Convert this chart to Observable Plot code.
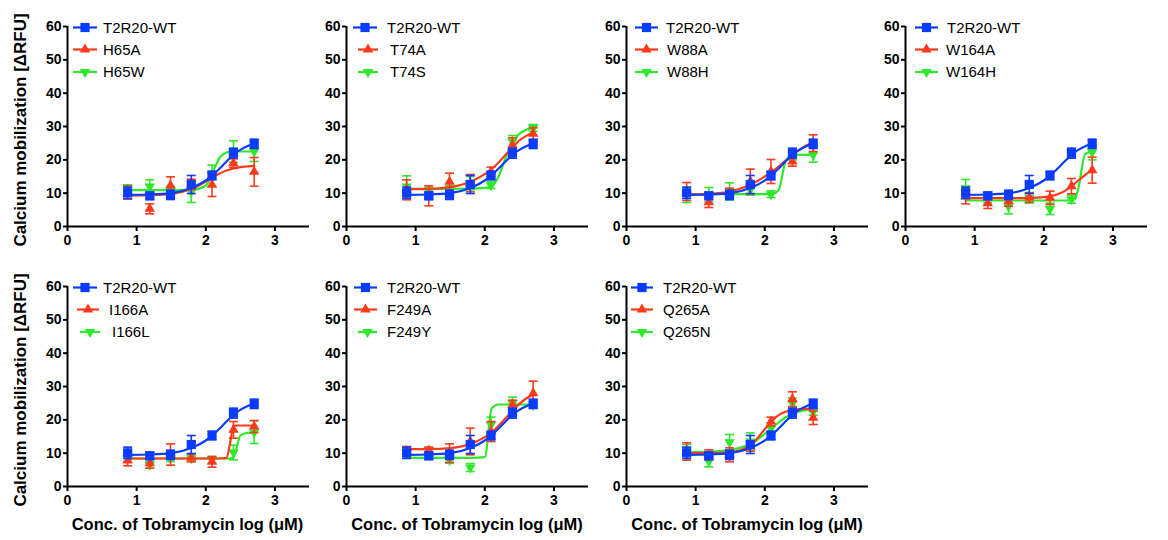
<!DOCTYPE html>
<html><head><meta charset="utf-8">
<script src="https://cdn.jsdelivr.net/npm/d3@7"></script>
<script src="https://cdn.jsdelivr.net/npm/@observablehq/plot@0.6"></script>
<style>
body{margin:0;background:#fff;}
#root{position:relative;width:1168px;height:540px;overflow:hidden;font-family:"Liberation Sans",Arial,sans-serif;color:#000;}
.panel{position:absolute;}
.legend{position:absolute;overflow:visible;}
.ylab{position:absolute;font-weight:bold;font-size:17px;white-space:nowrap;transform:translate(-50%,-50%) rotate(-90deg);}
.xlab{position:absolute;font-weight:bold;font-size:16.5px;white-space:nowrap;transform:translateX(-50%);}
</style></head><body><div id="root"></div>
<script>
// ---------------- data ----------------
const doseLog = [0.87, 1.19, 1.49, 1.79, 2.09, 2.40, 2.70];
const fitLog  = [0.87, 1.2, 1.5, 1.8, 2.0, 2.1, 2.2, 2.3, 2.35, 2.4, 2.45, 2.5, 2.6, 2.7];
const wtName = "T2R20-WT";
const alaNames = ["H65A", "T74A", "W88A", "W164A", "I166A", "F249A", "Q265A"];
const subNames = ["H65W", "T74S", "W88H", "W164H", "I166L", "F249Y", "Q265N"];

const wtMean = [10.1, 9.2, 9.5, 12.6, 15.3, 22.0, 24.8];
const wtSem  = [1.7, 1.1, 1.4, 2.7, 1.3, 1.5, 1.4];
const wtFit  = [9.5, 9.6, 10.0, 11.6, 13.8, 15.4, 17.4, 19.5, 20.5, 21.5, 22.3, 23.0, 24.1, 24.9];

const alaMean = [
  [10.2, 5.3, 12.3, 12.6, 12.5, 19.0, 16.4],
  [11.0, 9.2, 13.4, 13.0, 16.4, 24.4, 27.8],
  [10.5, 7.3, 10.0, 13.5, 16.5, 19.5, 25.0],
  [9.0, 7.0, 7.6, 8.7, 8.6, 12.1, 16.9],
  [7.8, 7.0, 9.6, 8.6, 7.4, 17.0, 18.0],
  [10.5, 10.8, 10.0, 13.5, 16.5, 24.5, 28.0],
  [10.5, 9.5, 9.5, 12.0, 19.5, 26.2, 20.6]
];
const alaSem = [
  [2.0, 1.5, 2.6, 1.6, 3.5, 1.3, 4.3],
  [3.0, 3.0, 2.6, 2.6, 1.4, 2.2, 1.8],
  [2.7, 1.6, 1.5, 3.7, 3.6, 1.4, 2.5],
  [2.2, 1.6, 1.5, 1.4, 2.0, 2.3, 3.9],
  [1.6, 1.5, 3.2, 1.2, 1.6, 2.5, 1.8],
  [1.5, 1.0, 2.8, 4.0, 3.0, 1.4, 3.6],
  [2.6, 1.5, 2.1, 1.4, 1.3, 2.2, 2.0]
];
const alaFit = [
  [9.3, 9.4, 9.8, 11.3, 13.5, 14.8, 15.9, 16.8, 17.1, 17.4, 17.6, 17.8, 18.0, 18.2],
  [11.2, 11.3, 11.8, 13.5, 15.7, 17.2, 19.2, 21.5, 22.6, 23.8, 24.8, 25.8, 27.2, 28.3],
  [9.6, 9.8, 10.5, 12.6, 15.0, 16.4, 18.0, 19.8, 20.6, 21.5, 22.3, 23.0, 24.3, 25.3],
  [8.5, 8.5, 8.5, 8.6, 8.8, 9.1, 9.7, 10.6, 11.3, 12.0, 12.9, 13.8, 15.5, 16.9],
  [8.4, 8.4, 8.4, 8.4, 8.4, 8.4, 8.4, 8.6, 12.8, 18.0, 18.3, 18.3, 18.3, 18.3],
  [11.2, 11.2, 11.5, 12.8, 14.8, 16.2, 18.2, 20.5, 21.6, 22.8, 23.8, 24.8, 26.4, 27.6],
  [10.0, 10.0, 10.3, 12.5, 17.2, 19.6, 21.4, 22.4, 22.7, 22.9, 23.1, 23.2, 23.3, 23.3]
];
const subMean = [
  [11.0, 12.0, 10.8, 10.5, 15.2, 22.5, 22.5],
  [12.0, 10.5, 11.0, 13.0, 12.4, 25.5, 29.6],
  [9.5, 9.5, 10.5, 11.0, 9.7, 21.5, 21.5],
  [11.5, 8.3, 6.1, 8.6, 5.3, 8.2, 22.3],
  [8.5, 6.5, 8.5, 8.5, 8.0, 10.2, 16.3],
  [10.0, 10.8, 8.0, 5.7, 18.5, 25.0, 24.5],
  [11.0, 7.5, 13.3, 13.5, 17.5, 25.0, 22.4]
];
const subSem = [
  [1.5, 2.0, 1.2, 3.3, 3.2, 3.2, 3.0],
  [3.2, 1.3, 1.2, 2.0, 1.0, 1.8, 1.0],
  [2.3, 2.2, 2.6, 1.6, 1.0, 1.5, 2.2],
  [2.6, 1.2, 2.3, 1.6, 1.7, 1.2, 2.3],
  [1.0, 1.0, 1.0, 1.0, 1.0, 2.2, 3.4],
  [1.5, 1.0, 1.0, 1.2, 2.3, 1.8, 1.0],
  [1.6, 1.6, 2.3, 2.6, 1.5, 1.5, 1.0]
];
const subFit = [
  [10.9, 10.9, 10.9, 11.0, 12.3, 16.3, 20.6, 22.2, 22.4, 22.5, 22.5, 22.5, 22.5, 22.5],
  [11.3, 11.3, 11.3, 11.4, 11.6, 12.2, 15.0, 20.5, 23.0, 25.0, 26.6, 27.8, 29.0, 29.6],
  [9.7, 9.7, 9.7, 9.7, 9.7, 9.7, 11.0, 19.5, 21.0, 21.4, 21.5, 21.5, 21.5, 21.5],
  [7.8, 7.8, 7.8, 7.8, 7.8, 7.8, 7.8, 7.8, 7.8, 7.9, 8.2, 11.5, 21.8, 22.5],
  [8.4, 8.4, 8.4, 8.4, 8.4, 8.4, 8.4, 8.4, 8.4, 8.7, 12.0, 15.3, 16.1, 16.2],
  [8.6, 8.6, 8.6, 8.6, 8.8, 23.5, 24.6, 24.6, 24.6, 24.6, 24.6, 24.6, 24.6, 24.6],
  [10.3, 10.5, 11.0, 12.8, 15.8, 17.5, 19.2, 20.7, 21.3, 21.8, 22.2, 22.5, 22.9, 23.1]
];
const xTicks = [0, 1, 2, 3];
const yTicks = [0, 10, 20, 30, 40, 50, 60];
const yLabel = "Calcium mobilization [\u0394RFU]";
const xLabel = "Conc. of Tobramycin log (\u03bcM)";

// ---------------- layout / style ----------------
const BLUE = "#0a3cff", RED = "#ff3a1c", GREEN = "#2ee82a";
const axisPos = [[66.5, 26], [346, 26], [626, 26], [905, 26], [66.5, 286], [346, 286], [626, 286]];
const legendLay = [
  [[6,30,36],[6,30,36],[6,30,36]],
  [[7,31,41],[12,32,44],[12,32,44]],
  [[9,32,40],[9,32,41],[9,32,41]],
  [[10,33,42],[10,33,41],[10,33,41]],
  [[6,30,36],[10,32,42],[13,33,45]],
  [[8,31,41],[8,31,41],[12,31,41]],
  [[5,27,37],[5,27,37],[5,27,37]]
];
const ML = 45, MR = 8, MT = 12, MB = 32, PW = 242, PH = 200;
const FONT = "'Liberation Sans', Arial, sans-serif";
const capSymbol = { draw(ctx, size) { const w = Math.sqrt(size / Math.PI); ctx.moveTo(-w, 0); ctx.lineTo(w, 0); } };
const root = document.getElementById("root");

const styles = [
  {color: BLUE, symbol: "square", r: 5.2, rotate: 0},
  {color: RED, symbol: "triangle", r: 3.9, rotate: 0},
  {color: GREEN, symbol: "triangle", r: 3.9, rotate: 180}
];

for (let p = 0; p < 7; p++) {
  const series = [
    {name: wtName, mean: wtMean, sem: wtSem, fit: wtFit},
    {name: alaNames[p], mean: alaMean[p], sem: alaSem[p], fit: alaFit[p]},
    {name: subNames[p], mean: subMean[p], sem: subSem[p], fit: subFit[p]}
  ];
  const marks = [];
  for (const k of [2, 1, 0]) {
    const s = series[k], st = styles[k];
    const pts = doseLog.map((x, i) => ({x, y: s.mean[i], e: s.sem[i]}));
    const fit = fitLog.map((x, i) => ({x, y: s.fit[i]}));
    marks.push(Plot.ruleX(pts, {x: "x", y1: d => d.y - d.e, y2: d => d.y + d.e, stroke: st.color, strokeWidth: 1.6}));
    marks.push(Plot.dot(pts, {x: "x", y: d => d.y + d.e, symbol: capSymbol, r: 4.5, stroke: st.color, strokeWidth: 1.6, fill: "none"}));
    marks.push(Plot.dot(pts, {x: "x", y: d => d.y - d.e, symbol: capSymbol, r: 4.5, stroke: st.color, strokeWidth: 1.6, fill: "none"}));
    marks.push(Plot.line(fit, {x: "x", y: "y", stroke: st.color, strokeWidth: 2.2, curve: "monotone-x"}));
    marks.push(Plot.dot(pts, {x: "x", y: "y", symbol: st.symbol, r: st.r, fill: st.color, stroke: "none", rotate: st.rotate}));
  }
  marks.push(Plot.ruleX([0], {stroke: "#000", strokeWidth: 2}));
  marks.push(Plot.ruleY([0], {stroke: "#000", strokeWidth: 2}));
  marks.push(Plot.axisX({ticks: xTicks, tickSize: 5, tickPadding: 4, strokeWidth: 2, label: null, tickFormat: d => String(d)}));
  marks.push(Plot.axisY({ticks: yTicks, tickSize: 4, tickPadding: 2, strokeWidth: 2, label: null, tickFormat: d => String(d)}));

  const chart = Plot.plot({
    width: ML + PW + MR, height: MT + PH + MB,
    marginLeft: ML, marginRight: MR, marginTop: MT, marginBottom: MB,
    x: {domain: [0, 3.5], nice: false},
    y: {domain: [0, 60], nice: false},
    style: {fontFamily: FONT, fontSize: "14px", fontWeight: "bold", color: "#000", background: "transparent", overflow: "visible"},
    marks
  });
  const [ax, ay] = axisPos[p];
  const div = document.createElement("div");
  div.className = "panel";
  div.style.left = (ax - ML) + "px";
  div.style.top = (ay - MT) + "px";
  div.appendChild(chart);
  root.appendChild(div);

  // legend
  const lg = d3.create("svg").attr("class", "legend").attr("width", 200).attr("height", 70)
    .style("left", ax + "px").style("top", (ay - 10) + "px");
  const rowY = [11.5, 33.5, 56];
  series.forEach((s, k) => {
    const st = styles[k], [l0, l1, tx] = legendLay[p][k];
    const g = lg.append("g");
    g.append("line").attr("x1", l0).attr("x2", l1).attr("y1", rowY[k]).attr("y2", rowY[k]).attr("stroke", st.color).attr("stroke-width", 2.2);
    const sym = st.symbol === "square" ? d3.symbolSquare : d3.symbolTriangle;
    g.append("path").attr("d", d3.symbol(sym, st.r * st.r * Math.PI)())
      .attr("transform", `translate(${(l0 + l1) / 2},${rowY[k]}) rotate(${st.rotate})`).attr("fill", st.color);
    g.append("text").attr("x", tx).attr("y", rowY[k]).attr("dy", "0.35em").attr("font-size", 15)
      .attr("font-family", FONT).text(s.name);
  });
  root.appendChild(lg.node());

  if (p === 0 || p === 4) {
    const yl = document.createElement("div");
    yl.className = "ylab";
    yl.textContent = yLabel;
    yl.style.left = "21px";
    yl.style.top = (ay + 104) + "px";
    root.appendChild(yl);
  }
  if (p >= 4) {
    const xl = document.createElement("div");
    xl.className = "xlab";
    xl.textContent = xLabel;
    xl.style.left = (ax + 121) + "px";
    xl.style.top = "515px";
    root.appendChild(xl);
  }
}
</script></body></html>
